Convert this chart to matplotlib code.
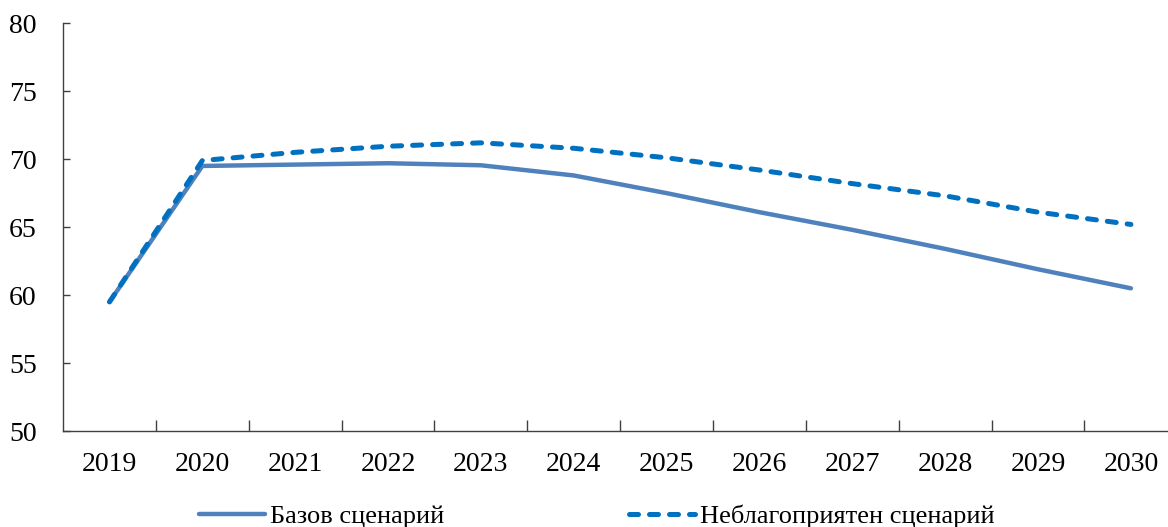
import matplotlib.pyplot as plt
from matplotlib.ticker import FixedLocator

plt.rcParams['font.family'] = ['Liberation Serif', 'DejaVu Serif']

years = ['2019', '2020', '2021', '2022', '2023', '2024',
         '2025', '2026', '2027', '2028', '2029', '2030']
base = [59.5, 69.5, 69.6, 69.7, 69.55, 68.8, 67.5, 66.1, 64.8, 63.4, 61.9, 60.5]
adverse = [59.5, 69.9, 70.5, 70.95, 71.2, 70.8, 70.1, 69.2, 68.2, 67.3, 66.1, 65.2]

fig = plt.figure(figsize=(11.68, 5.27), dpi=100)
ax = fig.add_axes([0.054, 0.182, 0.954, 0.774])

x = list(range(len(years)))
ax.plot(x, base, color='#4F81BD', lw=3.2, solid_capstyle='round',
        label='Базов сценарий')
ax.plot(x, adverse, color='#0070C0', lw=3.6, ls=(0, (1.8, 2.2)),
        dash_capstyle='round', label='Неблагоприятен сценарий')

ax.set_xlim(-0.5, len(years) - 0.5)
ax.set_ylim(50, 80)
ax.set_yticks(range(50, 81, 5))
ax.set_xticks(x)
ax.set_xticklabels(years)
ax.xaxis.set_minor_locator(FixedLocator([i + 0.5 for i in x[:-1]]))

ax.tick_params(axis='x', which='major', length=0, pad=15, labelsize=20)
ax.tick_params(axis='x', which='minor', direction='in', length=8,
               width=1, color='#404040')
ax.tick_params(axis='y', direction='in', length=5, width=1,
               color='#404040', pad=19, labelsize=20)

for s in ['top', 'right']:
    ax.spines[s].set_visible(False)
for s in ['left', 'bottom']:
    ax.spines[s].set_color('#404040')
    ax.spines[s].set_linewidth(1)

fig.legend(loc='center', bbox_to_anchor=(0.511, 0.02), ncol=2, frameon=False,
           fontsize=19, handlelength=2.5, handletextpad=0.2,
           columnspacing=7.0)

fig.savefig('out.png', dpi=100)
